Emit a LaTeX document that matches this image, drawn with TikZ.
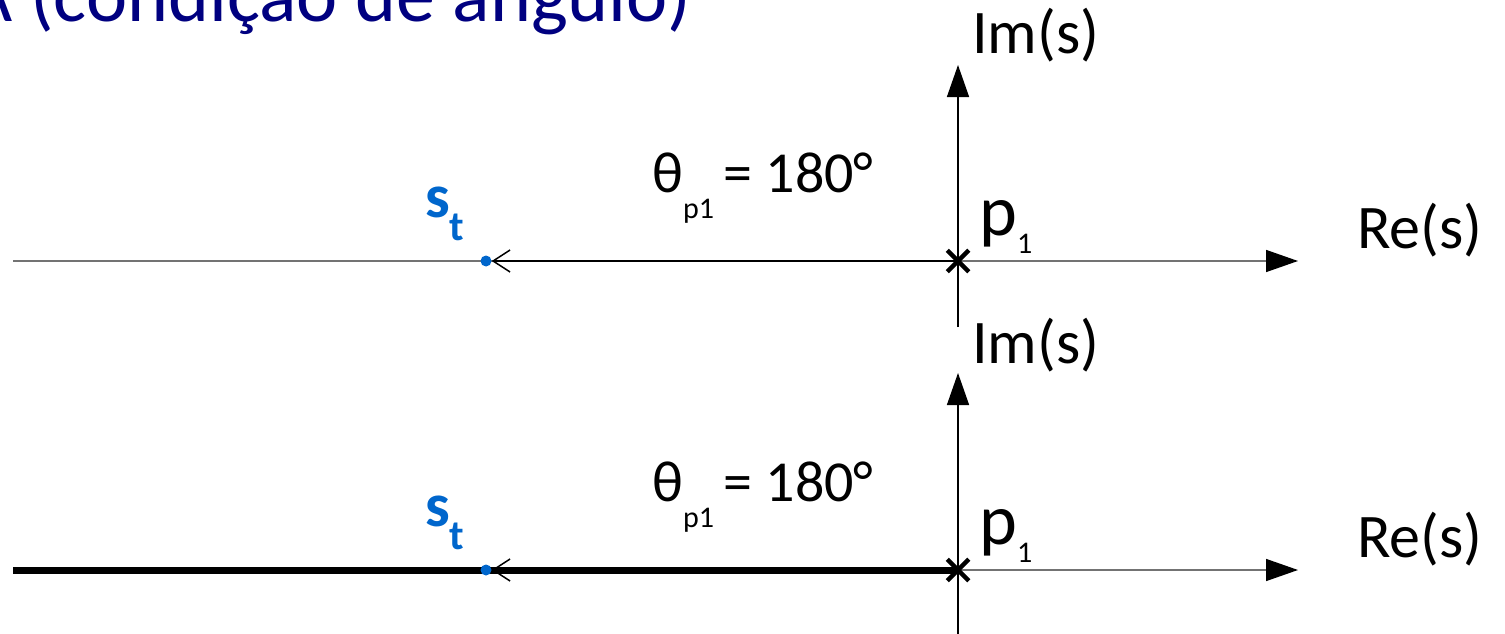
\documentclass[tikz,border=0pt]{standalone}
\usepackage{fontspec}
\setmainfont{Carlito}
\usepackage{tikz}
\usetikzlibrary{arrows.meta,shapes.misc}

\definecolor{titleblue}{RGB}{0,0,128}
\definecolor{stblue}{RGB}{0,102,204}

\begin{document}
\begin{tikzpicture}[
		x=1pt, y=-1pt,
		reaxis/.style={line width=1.5pt, black!55, -{Triangle[length=32pt,width=22pt,color=black]}},
		imaxis/.style={line width=1.5pt, -{Triangle[length=32pt,width=22pt]}},
		vec/.style={line width=2pt, -{Straight Barb[length=17pt,width=22pt,line width=1.5pt]}},
		locus/.style={line width=7pt},
		pole/.style={cross out, draw, line width=4.5pt, minimum size=17pt, inner sep=0pt},
		testpt/.style={circle, fill=stblue, minimum size=11pt, inner sep=0pt},
		axlabel/.style={font=\fontsize{62}{62}\selectfont, inner sep=0pt, anchor=base west},
		anglabel/.style={font=\fontsize{58}{58}\selectfont, inner sep=0pt, anchor=base west},
		stlabel/.style={font=\fontsize{62}{62}\selectfont\bfseries, text=stblue, inner sep=0pt, anchor=base west},
		plabel/.style={font=\fontsize{72}{72}\selectfont, inner sep=0pt, anchor=base west}
		]

		\useasboundingbox (0,0) rectangle (1505,634);

		\node[font=\fontsize{78}{78}\selectfont, text=titleblue, inner sep=0pt, anchor=base east] (title) at (692,22) {A (condição de ângulo)};

		% upper plane
		\coordinate (reAw) at (13,261);
		\coordinate (reAe) at (1298,261);
		\coordinate (imAs) at (958,327);
		\coordinate (imAn) at (958,65);
		\draw[reaxis] (reAw) -- (reAe);
		\draw[imaxis] (imAs) -- (imAn);
		\node[pole] (pA) at (958,261) {};
		\node[testpt] (stA) at (486,261) {};
		\draw[vec] (pA.center) -- (stA);
		\node[axlabel] (imlabA) at (972,54) {Im(s)};
		\node[axlabel] (relabA) at (1357,248) {Re(s)};
		\node[plabel] (plabA) at (979,235) {p\raisebox{-18pt}{\fontsize{30}{30}\selectfont 1}};
		\node[stlabel] (stlabA) at (425,217) {s\raisebox{-23pt}{\fontsize{42}{42}\selectfont t}};
		\node[anglabel] (angA) at (652,192) {θ\raisebox{-26pt}{\fontsize{30}{30}\selectfont p1}\,= 180°};

		% lower plane
		\coordinate (reBw) at (13,570);
		\coordinate (reBe) at (1298,570);
		\coordinate (imBs) at (958,640);
		\coordinate (imBn) at (958,373);
		\draw[reaxis] (reBw) -- (reBe);
		\draw[imaxis] (imBs) -- (imBn);
		\draw[locus] (reBw) -- (958,570);
		\node[pole] (pB) at (958,570) {};
		\node[testpt] (stB) at (486,570) {};
		\draw[vec] (pB.center) -- (stB);
		\node[axlabel] (imlabB) at (972,363) {Im(s)};
		\node[axlabel] (relabB) at (1357,557) {Re(s)};
		\node[plabel] (plabB) at (979,544) {p\raisebox{-18pt}{\fontsize{30}{30}\selectfont 1}};
		\node[stlabel] (stlabB) at (425,526) {s\raisebox{-23pt}{\fontsize{42}{42}\selectfont t}};
		\node[anglabel] (angB) at (652,501) {θ\raisebox{-26pt}{\fontsize{30}{30}\selectfont p1}\,= 180°};
	\end{tikzpicture}
\end{document}
